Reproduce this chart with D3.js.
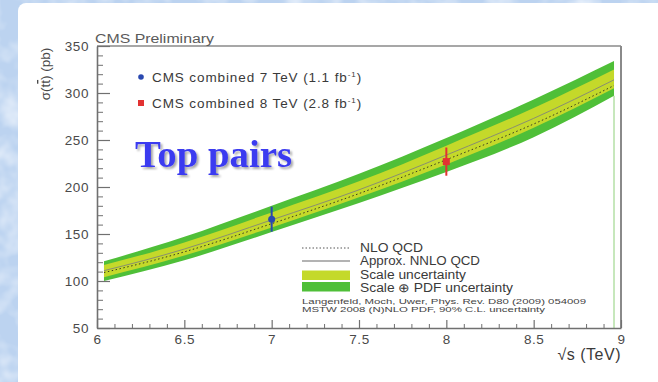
<!DOCTYPE html>
<html>
<head>
<meta charset="utf-8">
<script src="https://cdn.jsdelivr.net/npm/d3@7/dist/d3.min.js"></script>
<style>
  html, body { margin: 0; padding: 0; background: #c6daf2; }
  svg { display: block; }
</style>
</head>
<body>
<svg id="chart" width="658" height="382" font-family="Liberation Sans, Arial, Helvetica, sans-serif"></svg>
<script>
// Centre-of-mass energies (TeV) where the theory curves are sampled
const energy   = [6.04, 6.5, 7.0, 7.5, 8.0, 8.5, 8.96];
// Approx. NNLO QCD prediction (pb)
const nnlo     = [111, 134, 165, 197, 234, 273, 314];
// NLO QCD prediction (pb)
const nlo      = [109, 131, 161, 193, 229, 267, 308];
// Scale uncertainty band (pb)
const scaleLo  = [104, 127, 157, 189, 224, 263, 305];
const scaleHi  = [117, 141, 173, 206, 244, 284, 325];
// Scale (+) PDF uncertainty band (pb)
const totalLo  = [100, 122, 152, 183, 216, 253, 297];
const totalHi  = [121, 147, 180, 214, 252, 293, 334];

// CMS measurements
const measEnergy = [7, 8];
const measXsec   = [165.8, 227];
const measErr    = [13.3, 15];
const measLabel  = ["CMS combined 7 TeV (1.1 fb", "CMS combined 8 TeV (2.8 fb"];
const measColor  = ["#2a48b0", "#e23232"];

// Axis ticks
const xMajor = [6, 6.5, 7, 7.5, 8, 8.5, 9];
const yMajor = [50, 100, 150, 200, 250, 300, 350];

const svg = d3.select("#chart");

// Mottled slide background
const defs = svg.append("defs");
const tex = defs.append("filter").attr("id", "mottle").attr("x", 0).attr("y", 0).attr("width", 1).attr("height", 1);
tex.append("feTurbulence").attr("type", "fractalNoise").attr("baseFrequency", 0.035).attr("numOctaves", 3).attr("seed", 4).attr("result", "n");
tex.append("feColorMatrix").attr("in", "n").attr("type", "matrix")
  .attr("values", "0 0 0 0 0.93  0 0 0 0 0.96  0 0 0 0 1  0 0 0 1.6 -0.65");
svg.append("rect").attr("width", 658).attr("height", 382).attr("fill", "#bcd3f0");
svg.append("rect").attr("width", 658).attr("height", 382).attr("filter", "url(#mottle)");

// White slide panel
svg.append("rect").attr("x", 18).attr("y", 3).attr("width", 680).attr("height", 420)
  .attr("rx", 8).attr("fill", "#ffffff");

const x = d3.scaleLinear().domain([6, 9]).range([97, 621]);
const y = d3.scaleLinear().domain([50, 350]).range([328, 46]);

const idx = d3.range(energy.length);

// Uncertainty bands
const band = (lo, hi) => d3.area()
  .x(i => x(energy[i])).y0(i => y(lo[i])).y1(i => y(hi[i]))
  .curve(d3.curveNatural);
svg.append("path").attr("d", band(totalLo, totalHi)(idx)).attr("fill", "#4fbf38");
svg.append("path").attr("d", band(scaleLo, scaleHi)(idx)).attr("fill", "#c4d92a");

// Thin edge line at the end of the band
svg.append("line")
  .attr("x1", x(energy[energy.length - 1])).attr("x2", x(energy[energy.length - 1]))
  .attr("y1", y(totalLo[totalLo.length - 1])).attr("y2", y(50))
  .attr("stroke", "#8fd07a").attr("stroke-width", 1);

// Theory curves
const curve = vals => d3.line().x(i => x(energy[i])).y(i => y(vals[i])).curve(d3.curveNatural)(idx);
svg.append("path").attr("d", curve(nnlo)).attr("fill", "none")
  .attr("stroke", "#8a8f70").attr("stroke-width", 1);
svg.append("path").attr("d", curve(nlo)).attr("fill", "none")
  .attr("stroke", "#3a3a20").attr("stroke-width", 1).attr("stroke-dasharray", "1.5,2.5");

// Frame: top and right
svg.append("line").attr("x1", x(6)).attr("x2", x(9)).attr("y1", y(350)).attr("y2", y(350))
  .attr("stroke", "#8a8a8a").attr("stroke-width", 1.3);
svg.append("line").attr("x1", x(9)).attr("x2", x(9)).attr("y1", y(350)).attr("y2", y(50))
  .attr("stroke", "#8a8a8a").attr("stroke-width", 2);

// Axes
const axisColor = "#707070";
const labelColor = "#4a4a4a";
function styleAxis(g) {
  g.select(".domain").attr("stroke", axisColor).attr("stroke-width", 1.6);
  g.selectAll(".tick line").attr("stroke", axisColor).attr("stroke-width", 1.2);
  g.selectAll(".tick text").attr("fill", labelColor).attr("font-size", 13.5)
    .attr("letter-spacing", 0.6).attr("font-family", "Liberation Sans, Arial, sans-serif");
}
const xMinor = d3.range(6, 9.0001, 0.1).filter(v => !xMajor.some(m => Math.abs(m - v) < 1e-6));
const yMinor = d3.range(50, 350.0001, 10).filter(v => v % 50 !== 0);

svg.append("g").attr("transform", `translate(0,${y(50)})`)
  .call(d3.axisBottom(x).tickValues(xMinor).tickSize(-4).tickFormat(""))
  .call(g => { g.select(".domain").remove(); g.selectAll(".tick line").attr("stroke", axisColor); });
svg.append("g").attr("transform", `translate(0,${y(50)})`)
  .call(d3.axisBottom(x).tickValues(xMajor).tickSizeInner(-8).tickSizeOuter(0).tickPadding(6)
    .tickFormat(d3.format("")))
  .call(styleAxis);

svg.append("g").attr("transform", `translate(${x(6)},0)`)
  .call(d3.axisLeft(y).tickValues(yMinor).tickSize(-6).tickFormat(""))
  .call(g => { g.select(".domain").remove(); g.selectAll(".tick line").attr("stroke", axisColor); });
svg.append("g").attr("transform", `translate(${x(6)},0)`)
  .call(d3.axisLeft(y).tickValues(yMajor).tickSizeInner(-13).tickSizeOuter(0).tickPadding(8))
  .call(styleAxis);

// Axis titles
const yt = svg.append("text").attr("transform", "translate(50,74) rotate(-90)")
  .attr("text-anchor", "middle").attr("fill", labelColor).attr("font-size", 13.5);
yt.append("tspan").text("σ(t");
yt.append("tspan").attr("text-decoration", "overline").text("t");
yt.append("tspan").text(") (pb)");

svg.append("text").attr("x", 621).attr("y", 360).attr("text-anchor", "end")
  .attr("fill", "#3a3a3a").attr("font-size", 16).attr("letter-spacing", 0.5).text("√s (TeV)");

svg.append("text").attr("x", 95).attr("y", 43).attr("fill", "#5a5a5a")
  .attr("font-size", 12).attr("textLength", 119).attr("lengthAdjust", "spacingAndGlyphs")
  .text("CMS Preliminary");

// Measurements
measEnergy.forEach((e, i) => {
  svg.append("line").attr("x1", x(e)).attr("x2", x(e))
    .attr("y1", y(measXsec[i] - measErr[i])).attr("y2", y(measXsec[i] + measErr[i]))
    .attr("stroke", measColor[i]).attr("stroke-width", 2);
});
svg.append("circle").attr("cx", x(measEnergy[0])).attr("cy", y(measXsec[0])).attr("r", 3.5)
  .attr("fill", measColor[0]);
svg.append("rect").attr("x", x(measEnergy[1]) - 3.5).attr("y", y(measXsec[1]) - 3.5)
  .attr("width", 7).attr("height", 7).attr("fill", measColor[1]);

// Measurement legend
const legY = [77, 103];
svg.append("circle").attr("cx", 141).attr("cy", legY[0]).attr("r", 2.8).attr("fill", measColor[0]);
svg.append("rect").attr("x", 138).attr("y", legY[1] - 3).attr("width", 6).attr("height", 6).attr("fill", measColor[1]);
measLabel.forEach((lab, i) => {
  const t = svg.append("text").attr("x", 152).attr("y", legY[i] + 5).attr("fill", "#3a3a3a")
    .attr("font-size", 13.5).attr("letter-spacing", 0.9);
  t.append("tspan").text(lab);
  t.append("tspan").attr("dy", -5).attr("font-size", 8).text("-1");
  t.append("tspan").attr("dy", 5).text(")");
});

// Big title with soft shadow
const sh = defs.append("filter").attr("id", "shadow").attr("x", -0.1).attr("y", -0.2).attr("width", 1.3).attr("height", 1.5);
sh.append("feGaussianBlur").attr("in", "SourceAlpha").attr("stdDeviation", 1.2).attr("result", "b");
sh.append("feOffset").attr("in", "b").attr("dx", 2).attr("dy", 2).attr("result", "o");
sh.append("feComponentTransfer").attr("in", "o").attr("result", "s")
  .append("feFuncA").attr("type", "linear").attr("slope", 0.35);
const mg = sh.append("feMerge");
mg.append("feMergeNode").attr("in", "s");
mg.append("feMergeNode").attr("in", "SourceGraphic");
svg.append("text").attr("x", 135).attr("y", 167).attr("fill", "#3b3bf0")
  .attr("font-family", "Liberation Serif, Times New Roman, serif").attr("font-weight", "bold")
  .attr("font-size", 38).attr("textLength", 157).attr("lengthAdjust", "spacingAndGlyphs")
  .attr("filter", "url(#shadow)").text("Top pairs");

// Theory legend
const lx0 = 302, lx1 = 350, tx = 360;
svg.append("line").attr("x1", lx0).attr("x2", lx1).attr("y1", 248).attr("y2", 248)
  .attr("stroke", "#555").attr("stroke-width", 1).attr("stroke-dasharray", "1.5,2");
svg.append("line").attr("x1", lx0).attr("x2", lx1).attr("y1", 261).attr("y2", 261)
  .attr("stroke", "#9a9a9a").attr("stroke-width", 1.5);
svg.append("rect").attr("x", lx0).attr("y", 270.5).attr("width", lx1 - lx0).attr("height", 9.5).attr("fill", "#c4d92a");
svg.append("rect").attr("x", lx0).attr("y", 282).attr("width", lx1 - lx0).attr("height", 9.5).attr("fill", "#4fbf38");

const legendRows = [
  { text: "NLO QCD", y: 252, w: 63 },
  { text: "Approx. NNLO QCD", y: 265, w: 120 },
  { text: "Scale uncertainty", y: 279, w: 106 },
  { text: "Scale ⊕ PDF uncertainty", y: 291.5, w: 153 }
];
legendRows.forEach(r => {
  svg.append("text").attr("x", tx).attr("y", r.y).attr("fill", "#3a3a3a").attr("font-size", 12)
    .attr("textLength", r.w).attr("lengthAdjust", "spacingAndGlyphs").text(r.text);
});
const refs = [
  { text: "Langenfeld, Moch, Uwer, Phys. Rev. D80 (2009) 054009", y: 303.5, w: 284 },
  { text: "MSTW 2008 (N)NLO PDF, 90% C.L. uncertainty", y: 311.5, w: 243 }
];
refs.forEach(r => {
  svg.append("text").attr("x", lx0).attr("y", r.y).attr("fill", "#444").attr("font-size", 8)
    .attr("textLength", r.w).attr("lengthAdjust", "spacingAndGlyphs").text(r.text);
});
</script>
</body>
</html>
